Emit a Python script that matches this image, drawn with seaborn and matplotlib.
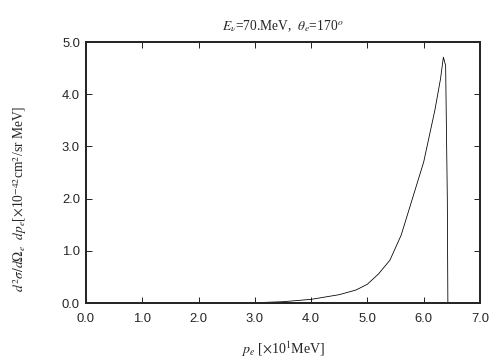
import seaborn as sns
import pandas as pd
import matplotlib.pyplot as plt

# momentum of the electron [x10 MeV] and the differential cross section
p_e = [2.5, 3.0, 3.5, 4.0, 4.5, 4.8, 5.0, 5.2, 5.4, 5.6, 5.8, 6.0, 6.2, 6.3, 6.35, 6.39, 6.42, 6.43]
sigma = [0.0, 0.005, 0.025, 0.07, 0.16, 0.25, 0.36, 0.56, 0.82, 1.30, 2.00, 2.70, 3.70, 4.30, 4.71, 4.55, 2.0, 0.0]

x_ticks = [0.0, 1.0, 2.0, 3.0, 4.0, 5.0, 6.0, 7.0]
y_ticks = [0.0, 1.0, 2.0, 3.0, 4.0, 5.0]

df = pd.DataFrame({'p': p_e, 's': sigma})

sns.set_style("ticks")
plt.rcParams['mathtext.fontset'] = 'stix'

fig = plt.figure(figsize=(7, 5), dpi=72)
ax = fig.add_axes([0.1706, 0.1583, 0.7817, 0.725])

sns.lineplot(data=df, x='p', y='s', color='black', linewidth=0.8, sort=False, ax=ax)

ax.set_xlim(0, 7)
ax.set_ylim(0, 5)
ax.set_xticks(x_ticks)
ax.set_yticks(y_ticks)
ax.set_xticklabels([f'{v:.1f}' for v in x_ticks], family='Liberation Sans', fontsize=13)
ax.set_yticklabels([f'{v:.1f}' for v in y_ticks], family='Liberation Sans', fontsize=13)
ax.tick_params(direction='in', top=True, right=True, length=6, width=1, pad=6)
ax.tick_params(axis='x', pad=10)
for s in ax.spines.values():
    s.set_linewidth(2)
    s.set_visible(True)

ax.set_title(r'$E_\nu$=70.MeV,  $\theta_e$=170$^o$', family='Liberation Serif', fontsize=13.5, pad=12)
ax.set_xlabel(r'$p_e$ [$\times$10$^1$MeV]', family='Liberation Serif', fontsize=14, labelpad=14)
ax.set_ylabel(r'$d^2\sigma/d\Omega_e\ \ dp_e$[$\times$10$^{-42}$cm$^2$/sr MeV]', family='Liberation Serif', fontsize=13.5)
ax.yaxis.set_label_coords(-0.145, 0.40)

fig.savefig('out.png', dpi=72)
